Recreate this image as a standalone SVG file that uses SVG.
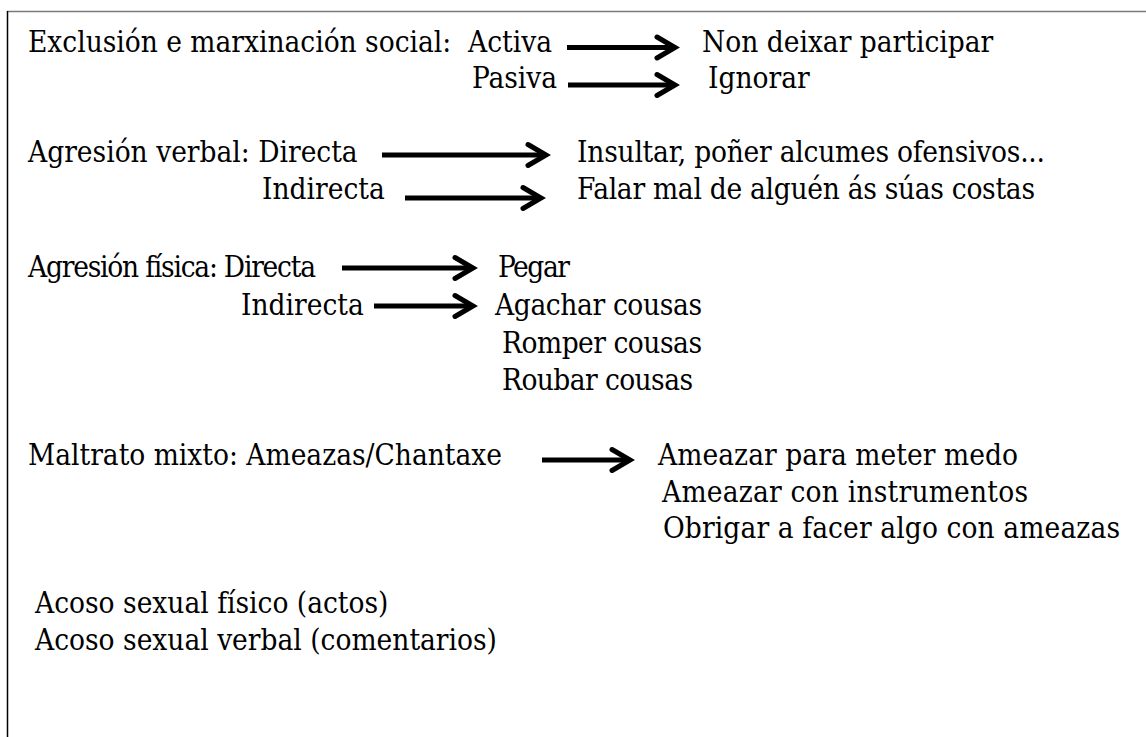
<svg xmlns="http://www.w3.org/2000/svg" width="1146" height="737" viewBox="0 0 1146 737">
<style>
  text { font-family: "DejaVu Serif Condensed", "DejaVu Serif", serif; font-size: 29.5px; fill: #000; }
  .shaft { stroke: #000; stroke-width: 5; fill: none; }
  .head { stroke: #000; stroke-width: 5; fill: none; stroke-linejoin: miter; stroke-linecap: round; }
</style>
<rect width="1146" height="737" fill="#fff"/>
<g id="frame">
  <line x1="7" y1="11.5" x2="1146" y2="11.5" stroke="#7a7a7a" stroke-width="1.6"/>
  <line x1="7.5" y1="11" x2="7.5" y2="737" stroke="#000" stroke-width="1.5"/>
</g>
<g id="exclusion">
  <text x="28" y="52" xml:space="preserve" textLength="524">Exclusión e marxinación social:  Activa</text>
  <text x="472" y="88" textLength="85">Pasiva</text>
  <text x="702" y="52">Non deixar participar</text>
  <text x="708" y="88">Ignorar</text>
</g>
<g id="verbal">
  <text x="28" y="162">Agresión verbal: Directa</text>
  <text x="262" y="199">Indirecta</text>
  <text x="577" y="162" textLength="468">Insultar, poñer alcumes ofensivos...</text>
  <text x="577" y="199" textLength="458">Falar mal de alguén ás súas costas</text>
</g>
<g id="fisica">
  <text x="28" y="277" textLength="288">Agresión física: Directa</text>
  <text x="241" y="315">Indirecta</text>
  <text x="498" y="277" textLength="72">Pegar</text>
  <text x="495" y="315" textLength="207">Agachar cousas</text>
  <text x="502" y="353" textLength="200">Romper cousas</text>
  <text x="502" y="390" textLength="191">Roubar cousas</text>
</g>
<g id="mixto">
  <text x="28" y="465">Maltrato mixto: Ameazas/Chantaxe</text>
  <text x="658" y="465" textLength="360">Ameazar para meter medo</text>
  <text x="662" y="502" textLength="366">Ameazar con instrumentos</text>
  <text x="663" y="538" textLength="457">Obrigar a facer algo con ameazas</text>
</g>
<g id="sexual">
  <text x="35" y="613">Acoso sexual físico (actos)</text>
  <text x="35" y="650">Acoso sexual verbal (comentarios)</text>
</g>
<g id="connectors">
  <path class="shaft" d="M567 47.5 H674"/><path class="head" d="M657 37 L675 47.5 L657 58"/>
  <path class="shaft" d="M568 85 H674"/><path class="head" d="M657 74.5 L675 85 L657 95.5"/>
  <path class="shaft" d="M382 155 H545"/><path class="head" d="M528 144.5 L546 155 L528 165.5"/>
  <path class="shaft" d="M405 198 H540"/><path class="head" d="M523 187.5 L541 198 L523 208.5"/>
  <path class="shaft" d="M342 268 H472"/><path class="head" d="M455 257.5 L473 268 L455 278.5"/>
  <path class="shaft" d="M374 306 H472"/><path class="head" d="M455 295.5 L473 306 L455 316.5"/>
  <path class="shaft" d="M542 460 H629"/><path class="head" d="M612 449.5 L630 460 L612 470.5"/>
</g>
</svg>
